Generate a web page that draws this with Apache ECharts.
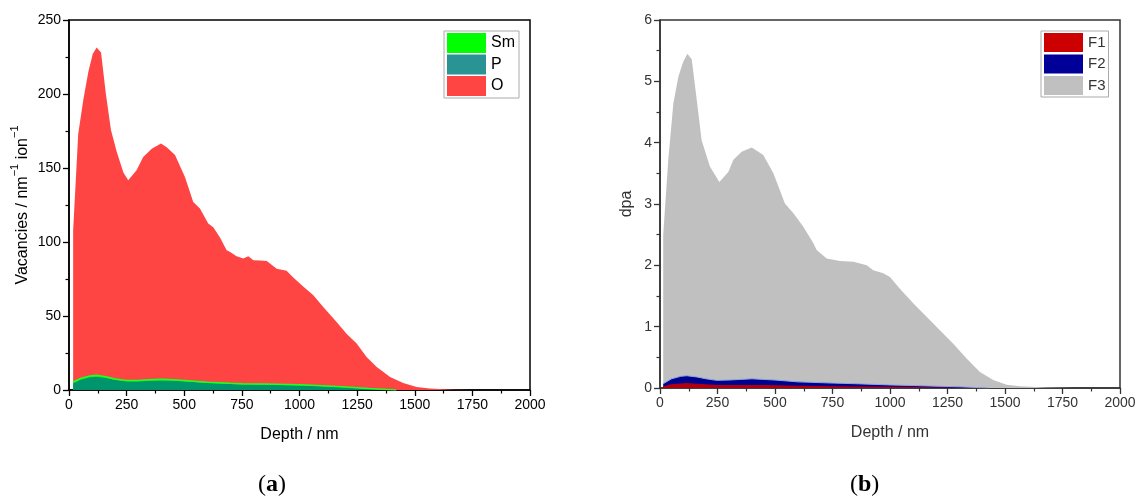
<!DOCTYPE html>
<html>
<head>
<meta charset="utf-8">
<script src="https://cdn.jsdelivr.net/npm/echarts@6/dist/echarts.min.js"></script>
<style>
  html, body { margin: 0; padding: 0; background: #fff; }
  #chart { width: 1139px; height: 499px; }
</style>
</head>
<body>
<div id="chart"></div>
<script>
// (a) vacancies per nm per ion
var oDepth = [18, 40, 62, 84, 103, 120, 139, 160, 182, 207, 236, 257, 293, 322, 359, 399, 424, 460, 503, 539, 568, 604, 626, 655, 684, 699, 727, 756, 778, 800, 830, 858, 872, 901, 944, 973, 1016, 1060, 1103, 1161, 1204, 1248, 1291, 1335, 1393, 1450, 1508, 1566, 1667, 1750];
var oVac = [108, 173, 196, 215, 227, 231.5, 228, 200, 175.6, 161, 147, 141.8, 148.5, 157.5, 163, 166.6, 164, 158.7, 144, 127, 122.6, 112.5, 110, 103, 94.5, 93.3, 90.4, 88.8, 90.4, 87.7, 87.5, 87.2, 85.5, 82, 80.5, 76, 70, 64, 56, 46, 38, 31.4, 22.3, 15.6, 8.8, 4.7, 2, 1, 0.2, 0];
var smDepth = [18, 50, 90, 120, 160, 200, 250, 300, 350, 400, 450, 500, 600, 700, 750, 850, 1000, 1100, 1200, 1300, 1420];
var smVac = [5.4, 7.8, 9.5, 9.9, 9.0, 7.5, 6.5, 6.5, 6.9, 7.2, 7.0, 6.5, 5.3, 4.6, 4.3, 4.0, 3.6, 2.9, 2.0, 1.0, 0];
var pVac = [4.6, 7.0, 8.6, 9.0, 8.1, 6.7, 5.8, 5.8, 6.2, 6.4, 6.3, 5.8, 4.7, 4.0, 3.7, 3.5, 3.1, 2.5, 1.7, 0.8, 0];

// (b) dpa
var f3Depth = [14, 36, 58, 80, 101, 119, 138, 160, 181, 217, 258, 297, 319, 355, 399, 449, 493, 543, 580, 623, 667, 681, 725, 783, 841, 870, 899, 927, 971, 1000, 1043, 1101, 1159, 1217, 1275, 1333, 1391, 1449, 1507, 1565, 1681, 1800];
var f3Dpa = [2.5, 3.72, 4.64, 5.08, 5.32, 5.45, 5.36, 4.69, 4.04, 3.61, 3.36, 3.52, 3.72, 3.85, 3.92, 3.80, 3.50, 3.01, 2.85, 2.63, 2.36, 2.25, 2.11, 2.07, 2.06, 2.03, 2.0, 1.92, 1.87, 1.81, 1.62, 1.38, 1.16, 0.94, 0.72, 0.48, 0.26, 0.13, 0.055, 0.03, 0.01, 0];
var f12Depth = [14, 50, 90, 116, 160, 200, 246, 300, 350, 400, 450, 500, 600, 752, 850, 1000, 1100, 1200, 1300, 1430];
var f2Dpa = [0.07, 0.15, 0.19, 0.20, 0.18, 0.15, 0.125, 0.13, 0.14, 0.15, 0.14, 0.13, 0.10, 0.08, 0.07, 0.05, 0.04, 0.03, 0.02, 0];
var f1Dpa = [0.03, 0.06, 0.075, 0.08, 0.07, 0.06, 0.05, 0.05, 0.05, 0.05, 0.05, 0.045, 0.035, 0.03, 0.025, 0.02, 0.015, 0.01, 0.005, 0];

function pairs(xs, ys) {
  return xs.map(function (x, i) { return [x, ys[i]]; });
}

var font = "Liberation Sans, Arial, sans-serif";

function xAxisCfg(grid, col) {
  return {
    gridIndex: grid, type: "value", min: 0, max: 2000, interval: 250,
    name: "Depth / nm", nameLocation: "middle", nameGap: 37,
    nameTextStyle: { color: col, fontSize: 16, fontFamily: font },
    axisLine: { lineStyle: { color: col, width: 1.5 } },
    axisTick: { length: 6, lineStyle: { color: col, width: 1.3 } },
    minorTick: { show: true, splitNumber: 2, length: 3.5, lineStyle: { color: col, width: 1.2 } },
    axisLabel: { color: col, fontSize: 14, fontFamily: font, margin: 8, formatter: function (v) { return String(v); } },
    splitLine: { show: false }
  };
}

var areaLine = function (name, data, lineCol, fillCol, legendCol, lw, grid) {
  return {
    name: name, type: "line", xAxisIndex: grid, yAxisIndex: grid,
    data: data, showSymbol: false, symbol: "none", smooth: false,
    lineStyle: { color: lineCol, width: lw },
    itemStyle: { color: legendCol },
    areaStyle: { color: fillCol, opacity: 1 },
    animation: false
  };
};

var bigLetter = {
  p: { fontSize: 24, fontFamily: "Liberation Serif, serif", fill: "#000" },
  b: { fontSize: 24, fontFamily: "Liberation Serif, serif", fontWeight: "bold", fill: "#000" }
};

var myChart = echarts.init(document.getElementById("chart"));
var option = {
  backgroundColor: "#fff",
  animation: false,
  grid: [
    { left: 69, right: 609, top: 20, bottom: 109, show: true, borderColor: "#000", borderWidth: 1.5, backgroundColor: "transparent" },
    { left: 660, right: 19, top: 20, bottom: 111, show: true, borderColor: "#333", borderWidth: 1.5, backgroundColor: "transparent" }
  ],
  legend: [
    {
      data: ["Sm", "P", "O"], orient: "vertical", left: 444, top: 31,
      icon: "rect", itemWidth: 39, itemHeight: 20, itemGap: 1.5,
      padding: [2, 4, 2, 3], borderColor: "#aaa", borderWidth: 1,
      textStyle: { color: "#000", fontSize: 16, fontFamily: font },
      selectedMode: false
    },
    {
      data: ["F1", "F2", "F3"], orient: "vertical", left: 1041, top: 31,
      icon: "rect", itemWidth: 39, itemHeight: 19, itemGap: 2.5,
      padding: [2, 3, 2, 3], borderColor: "#aaa", borderWidth: 1,
      textStyle: { color: "#333", fontSize: 15, fontFamily: font },
      selectedMode: false
    }
  ],
  xAxis: [xAxisCfg(0, "#000"), xAxisCfg(1, "#333")],
  yAxis: [
    {
      gridIndex: 0, type: "value", min: 0, max: 250, interval: 50,
      name: "{n|Vacancies / nm}{s|−1}{n| ion}{s|−1}",
      nameLocation: "middle", nameGap: 38,
      nameTextStyle: {
        color: "#000", fontFamily: font,
        rich: {
          n: { fontSize: 16, fontFamily: font, color: "#000", verticalAlign: "bottom", lineHeight: 22 },
          s: { fontSize: 11, fontFamily: font, color: "#000", verticalAlign: "top", lineHeight: 12 }
        }
      },
      axisLine: { show: true, lineStyle: { color: "#000", width: 1.5 } },
      axisTick: { show: true, length: 6, lineStyle: { color: "#000", width: 1.3 } },
      minorTick: { show: true, splitNumber: 2, length: 3.5, lineStyle: { color: "#000", width: 1.2 } },
      axisLabel: { color: "#000", fontSize: 14, fontFamily: font, margin: 8 },
      splitLine: { show: false }
    },
    {
      gridIndex: 1, type: "value", min: 0, max: 6, interval: 1,
      name: "dpa", nameLocation: "middle", nameGap: 25,
      nameTextStyle: { color: "#333", fontSize: 16, fontFamily: font },
      axisLine: { show: true, lineStyle: { color: "#333", width: 1.5 } },
      axisTick: { show: true, length: 6, lineStyle: { color: "#333", width: 1.3 } },
      minorTick: { show: true, splitNumber: 2, length: 3.5, lineStyle: { color: "#333", width: 1.2 } },
      axisLabel: { color: "#333", fontSize: 14, fontFamily: font, margin: 8 },
      splitLine: { show: false }
    }
  ],
  series: [
    areaLine("O", pairs(oDepth, oVac), "#ff4444", "#ff4444", "#ff4444", 0, 0),
    areaLine("Sm", pairs(smDepth, smVac), "#22ff22", "#00ff00", "#00ff00", 1.5, 0),
    areaLine("P", pairs(smDepth, pVac), "#00946c", "#00946c", "#2a9494", 0, 0),
    areaLine("F3", pairs(f3Depth, f3Dpa), "#c0c0c0", "#c0c0c0", "#c0c0c0", 0, 1),
    areaLine("F2", pairs(f12Depth, f2Dpa), "#8fa6e0", "#00008f", "#000099", 1, 1),
    areaLine("F1", pairs(f12Depth, f1Dpa), "#b00010", "#b00010", "#cc0000", 0, 1)
  ],
  graphic: [
    { type: "text", left: 258, top: 473, style: { text: "{p|(}{b|a}{p|)}", rich: bigLetter } },
    { type: "text", left: 850, top: 473, style: { text: "{p|(}{b|b}{p|)}", rich: bigLetter } }
  ]
};
myChart.setOption(option);
</script>
</body>
</html>
